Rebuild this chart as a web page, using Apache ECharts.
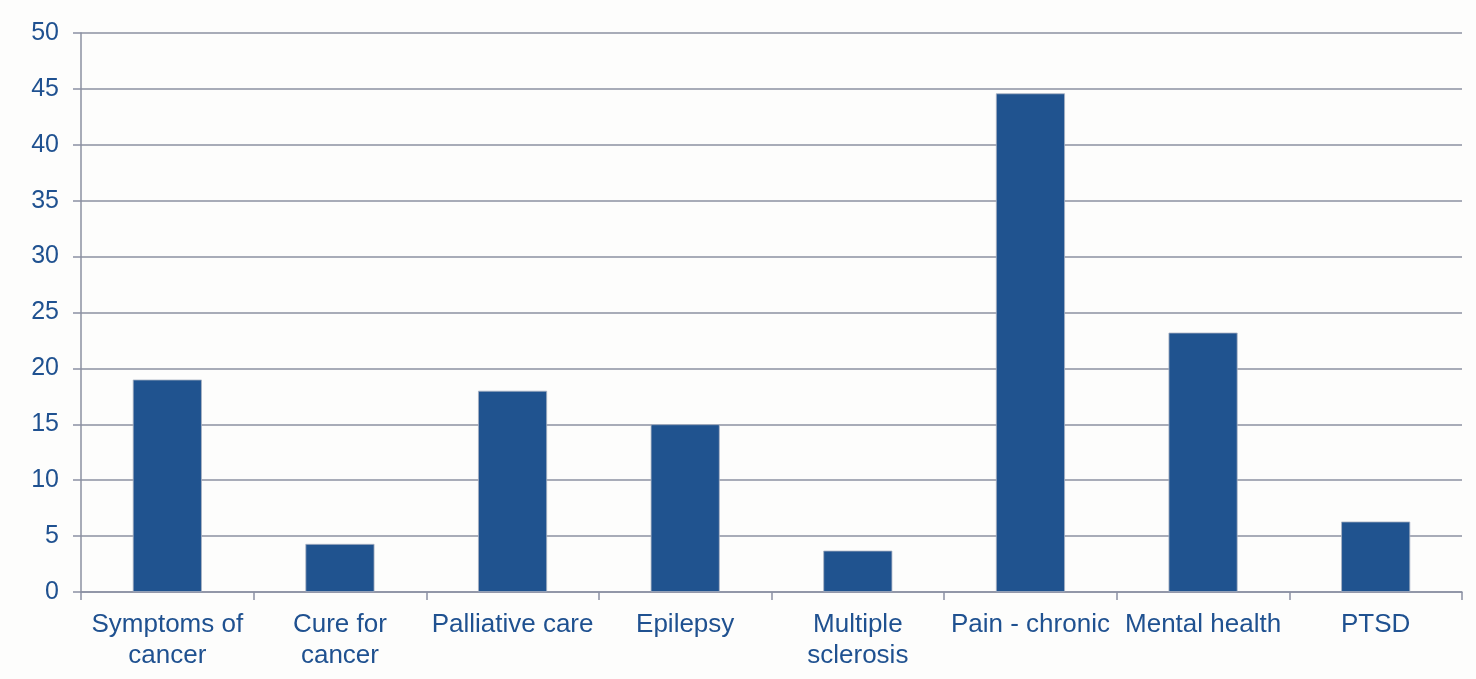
<!DOCTYPE html>
<html>
<head>
<meta charset="utf-8">
<script src="https://cdn.jsdelivr.net/npm/echarts@6/dist/echarts.min.js"></script>
<style>
html,body{margin:0;padding:0;background:#fdfdfc;}
#chart{width:1476px;height:679px;}
</style>
</head>
<body>
<div id="chart"></div>
<script>
const categories = ["Symptoms of\ncancer", "Cure for\ncancer", "Palliative care", "Epilepsy", "Multiple\nsclerosis", "Pain - chronic", "Mental health", "PTSD"];
const values = [19.0, 4.3, 18.0, 15.0, 3.7, 44.6, 23.2, 6.3];
const yTicks = { min: 0, max: 50, interval: 5 };

const textColor = "#1f5190";
const lineColor = "#8b90a2";
const chart = echarts.init(document.getElementById("chart"));
chart.setOption({
  backgroundColor: "#fdfdfc",
  animation: false,
  grid: { left: 81, right: 14, top: 33, bottom: 87 },
  xAxis: {
    type: "category",
    data: categories,
    boundaryGap: true,
    axisLine: { show: true, lineStyle: { color: lineColor, width: 1.5 } },
    axisTick: { show: true, length: 8, alignWithLabel: false, lineStyle: { color: lineColor, width: 1.5 } },
    axisLabel: {
      interval: 0,
      margin: 17,
      color: textColor,
      fontFamily: "Liberation Sans, Arial, sans-serif",
      fontSize: 26,
      lineHeight: 31
    },
    splitLine: { show: false }
  },
  yAxis: {
    type: "value",
    min: yTicks.min,
    max: yTicks.max,
    interval: yTicks.interval,
    axisLine: { show: true, lineStyle: { color: lineColor, width: 1.5 } },
    axisTick: { show: true, length: 8, lineStyle: { color: lineColor, width: 1.5 } },
    axisLabel: {
      margin: 22,
      color: textColor,
      fontFamily: "Liberation Sans, Arial, sans-serif",
      fontSize: 25
    },
    splitLine: { show: true, lineStyle: { color: lineColor, width: 1.5 } }
  },
  series: [{
    type: "bar",
    data: values,
    barWidth: "40%",
    itemStyle: { color: "#20538f", borderColor: "#a9b2c3", borderWidth: 0.8 }
  }]
});
</script>
</body>
</html>
